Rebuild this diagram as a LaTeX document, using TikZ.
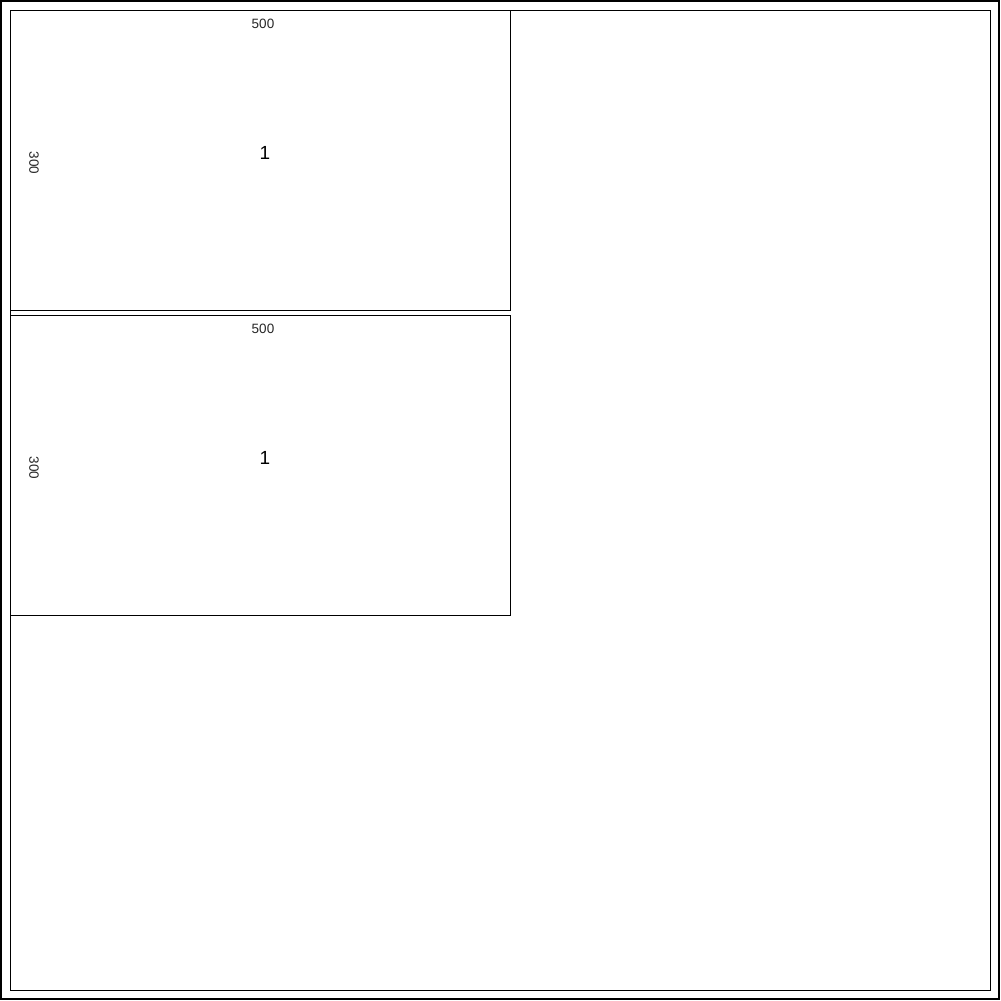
\documentclass[tikz,border=0pt]{standalone}
\usepackage{fontspec}
\setmainfont{Liberation Sans}
\begin{document}
\begin{tikzpicture}[x=1pt,y=-1pt,
  panel/.style={draw=black, line width=1pt, inner sep=0pt, outer sep=0pt, minimum width=500pt, minimum height=300pt, anchor=north west},
  dimlabel/.style={inner sep=0pt, font=\fontsize{13.5}{15}\selectfont, text=black!85},
  biglabel/.style={inner sep=0pt, font=\fontsize{19}{21}\selectfont}]
\useasboundingbox (0,0) rectangle (1001,1001);
\draw[line width=2pt] (1,1) rectangle (999,998.5);
\draw[line width=1pt] (10.5,10.5) rectangle (990.5,990.5);
\node[panel] (p1) at (10.5,10.5) {};
\node[panel] (p2) at (10.5,315.5) {};
\node[dimlabel] (w1) at (263,24) {500};
\node[dimlabel, rotate=-90] (h1) at (34,163) {300};
\node[biglabel] (n1) at (265,153) {1};
\node[dimlabel] (w2) at (263,329) {500};
\node[dimlabel, rotate=-90] (h2) at (34,468) {300};
\node[biglabel] (n2) at (265,458) {1};
\end{tikzpicture}
\end{document}
